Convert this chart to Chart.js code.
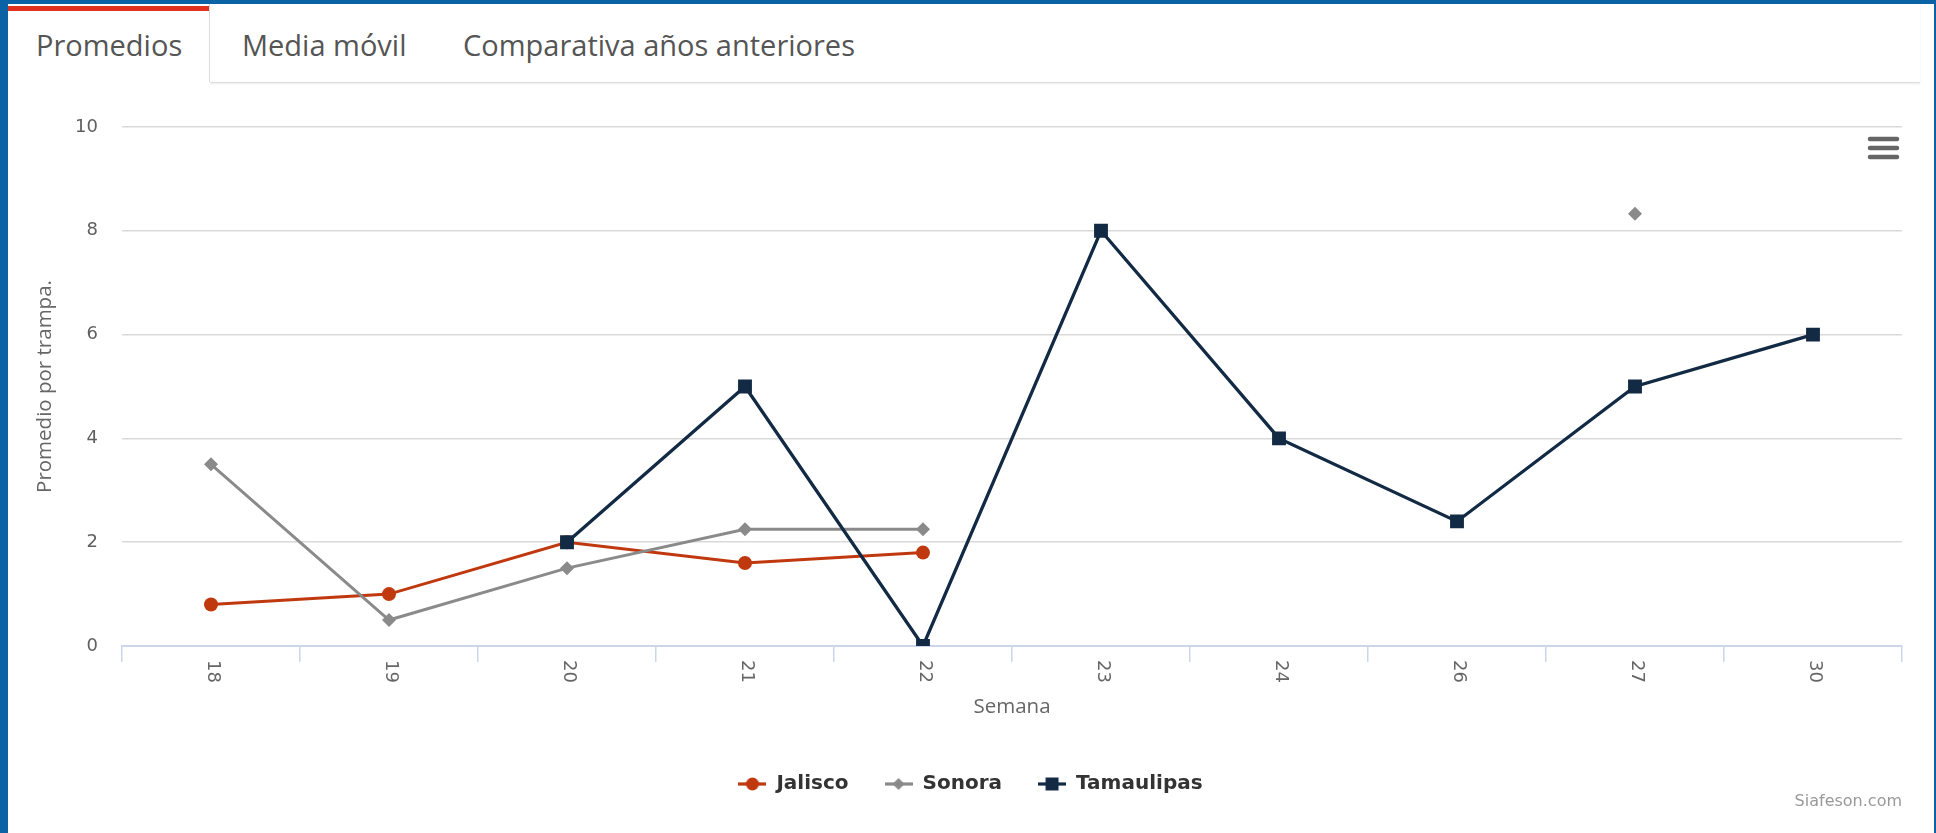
<!DOCTYPE html>
<html lang="es">
<head>
<meta charset="utf-8">
<title>Promedios</title>
<script src="https://cdn.jsdelivr.net/npm/chart.js@4.4.1/dist/chart.umd.min.js"></script>
<style>
  html, body { margin: 0; padding: 0; }
  body {
    width: 1936px; height: 833px; overflow: hidden;
    background: #0b62a4; position: relative;
    font-family: "Open Sans", sans-serif;
  }
  .panel {
    position: absolute; left: 8px; top: 4px; width: 1926px; height: 829px;
    background: #fff;
  }
  .tab {
    position: absolute; top: 21px; font-size: 29px; line-height: 40px;
    color: #555; white-space: nowrap;
  }
  .tab-active {
    position: absolute; left: 0; top: 0; width: 201px; height: 78px;
    border-right: 1px solid #dcdcdc; background: #fff;
  }
  .tab-active::before {
    content: ""; position: absolute; left: 0; right: 0; top: 2px; height: 5px;
    background: #e2311d;
  }
  .tab-strip {
    position: absolute; left: 202px; top: 0; width: 1710px; height: 78px;
    border-bottom: 1px solid #dcdcdc;
    box-shadow: 0 1px 2px rgba(0,0,0,0.08);
  }
  #wrap { position: absolute; left: 0; top: 79px; width: 1925px; height: 750px; }
  #chart { display: block; width: 1925px; height: 750px; }
</style>
</head>
<body>
<div class="panel">
  <div class="tab-strip"></div>
  <div class="tab-active"></div>
  <span class="tab" style="left:28px">Promedios</span>
  <span class="tab" style="left:234px">Media móvil</span>
  <span class="tab" style="left:455px">Comparativa años anteriores</span>
  <div id="wrap"><canvas id="chart" width="1925" height="750"></canvas></div>
</div>
<script>
// Semanas y promedio por trampa de cada estado
const semanas = ['18', '19', '20', '21', '22', '23', '24', '26', '27', '30'];
const jalisco = [0.8, 1.0, 2.0, 1.6, 1.8, null, null, null, null, null];
const sonora = [3.5, 0.5, 1.5, 2.25, 2.25, null, null, null, 8.33, null];
const tamaulipas = [null, null, 2.0, 5.0, 0, 8.0, 4.0, 2.4, 5.0, 6.0];
const yTicks = [0, 2, 4, 6, 8, 10];

const colores = { jalisco: '#c0390e', sonora: '#8a8a8a', tamaulipas: '#122a43' };

// small line + marker icons for the legend
function legendIcon(color, style, r) {
  const c = document.createElement('canvas');
  c.width = 28; c.height = 20;
  const g = c.getContext('2d');
  g.strokeStyle = color; g.fillStyle = color; g.lineWidth = 3.2;
  g.beginPath(); g.moveTo(0, 10); g.lineTo(28, 10); g.stroke();
  g.beginPath();
  if (style === 'circle') g.arc(14, 10, r, 0, Math.PI * 2);
  else if (style === 'rectRot') { g.moveTo(14 - r, 10); g.lineTo(14, 10 - r); g.lineTo(14 + r, 10); g.lineTo(14, 10 + r); }
  else g.rect(14 - r, 10 - r, 2 * r, 2 * r);
  g.closePath(); g.fill();
  return c;
}
const iconos = [
  legendIcon(colores.jalisco, 'circle', 6.5),
  legendIcon(colores.sonora, 'rectRot', 6),
  legendIcon(colores.tamaulipas, 'rect', 6.5)
];

// rotated week labels, export menu and credits
const extras = {
  id: 'extras',
  afterDraw(chart) {
    const ctx = chart.ctx, x = chart.scales.x;
    ctx.save();
    ctx.font = '18px "DejaVu Sans"';
    ctx.fillStyle = '#666666';
    ctx.textAlign = 'left';
    ctx.textBaseline = 'middle';
    x.ticks.forEach((t, i) => {
      ctx.save();
      ctx.translate(x.getPixelForTick(i) + 2, x.top + 14);
      ctx.rotate(Math.PI / 2);
      ctx.fillText(x.getLabelForValue(t.value), 0, 0);
      ctx.restore();
    });

    ctx.strokeStyle = '#666666';
    ctx.lineWidth = 4.5;
    ctx.lineCap = 'round';
    [56, 65, 74].forEach(y => {
      ctx.beginPath(); ctx.moveTo(1862, y); ctx.lineTo(1889, y); ctx.stroke();
    });

    ctx.font = '16px "DejaVu Sans"';
    ctx.fillStyle = '#999999';
    ctx.textAlign = 'right';
    ctx.fillText('Siafeson.com', 1894, 719);
    ctx.restore();
  }
};

Chart.defaults.font.family = '"DejaVu Sans", Verdana, sans-serif';
Chart.defaults.color = '#666666';

new Chart(document.getElementById('chart'), {
  type: 'line',
  data: {
    labels: semanas,
    datasets: [
      {
        label: 'Jalisco', data: jalisco, order: 3,
        borderColor: colores.jalisco, backgroundColor: colores.jalisco,
        borderWidth: 3, pointStyle: 'circle', pointRadius: 7, pointBorderWidth: 0
      },
      {
        label: 'Sonora', data: sonora, order: 2,
        borderColor: colores.sonora, backgroundColor: colores.sonora,
        borderWidth: 3, pointStyle: 'rectRot', pointRadius: 7, pointBorderWidth: 0
      },
      {
        label: 'Tamaulipas', data: tamaulipas, order: 1,
        borderColor: colores.tamaulipas, backgroundColor: colores.tamaulipas,
        borderWidth: 3.3, pointStyle: 'rect', pointRadius: 9.8, pointBorderWidth: 0
      }
    ]
  },
  options: {
    responsive: false,
    animation: false,
    spanGaps: false,
    layout: { padding: { top: 44, bottom: 29, left: 0, right: 0 } },
    elements: { line: { tension: 0 } },
    scales: {
      x: {
        offset: true,
        afterFit: s => { s.height = 92; },
        ticks: { display: false },
        grid: {
          offset: true, drawOnChartArea: false, drawTicks: true,
          tickLength: 16, color: '#ccd6eb', lineWidth: 1.5
        },
        border: { color: '#ccd6eb', width: 2 },
        title: {
          display: true, text: 'Semana', color: '#666666',
          font: { family: '"Open Sans"', size: 20.5 },
          padding: { top: 0, bottom: 19 }
        }
      },
      y: {
        min: 0, max: 10,
        afterFit: s => { s.width = 114; },
        afterBuildTicks: s => { s.ticks = yTicks.map(v => ({ value: v })); },
        ticks: { padding: 24, font: { size: 18 }, color: '#606060' },
        grid: { color: '#d9d9d9', lineWidth: 1.5, drawTicks: false },
        border: { display: false },
        title: {
          display: true, text: 'Promedio por trampa.', color: '#666666',
          font: { family: '"Open Sans"', size: 20.5 },
          padding: { top: 25, bottom: 0 }
        }
      },
      margen: {
        type: 'linear', position: 'right',
        afterFit: s => { s.width = 31; },
        ticks: { display: false },
        grid: { display: false },
        border: { display: false }
      }
    },
    plugins: {
      legend: {
        position: 'bottom',
        labels: {
          usePointStyle: true,
          pointStyleWidth: 28,
          padding: 36,
          color: '#333333',
          font: { size: 20, weight: 'bold' },
          sort: (a, b) => a.datasetIndex - b.datasetIndex,
          generateLabels: chart => Chart.defaults.plugins.legend.labels.generateLabels(chart)
            .map(item => Object.assign(item, { pointStyle: iconos[item.datasetIndex] }))
        }
      },
      tooltip: { enabled: false }
    }
  },
  plugins: [extras]
});
</script>
</body>
</html>
